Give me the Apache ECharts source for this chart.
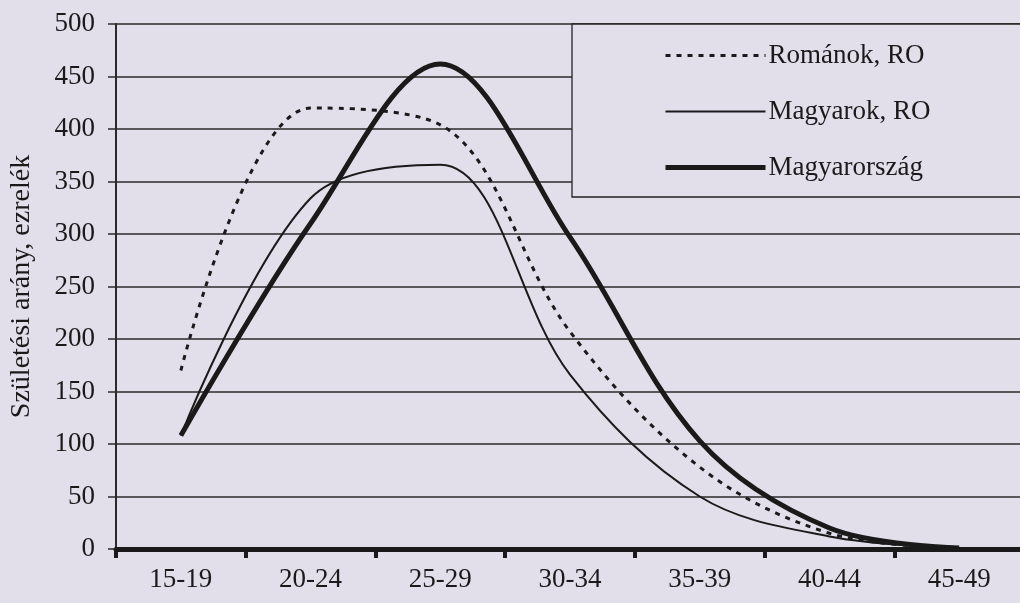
<!DOCTYPE html>
<html>
<head>
<meta charset="utf-8">
<script src="https://cdn.jsdelivr.net/npm/echarts@6/dist/echarts.min.js"></script>
<style>
html,body{margin:0;padding:0;background:#e2dfea;}
#chart{width:1020px;height:603px;}
</style>
</head>
<body>
<div id="chart"></div>
<script>
var categories = ['15-19','20-24','25-29','30-34','35-39','40-44','45-49'];
var romanokRO = [170, 420, 404, 207, 78, 15, 1];
var magyarokRO = [108, 334, 366, 166, 50, 12, 1];
var magyarorszag = [108, 310, 462, 297, 103, 20, 1];
var yTicks = [0, 50, 100, 150, 200, 250, 300, 350, 400, 450, 500];
var seriesNames = ['Románok, RO', 'Magyarok, RO', 'Magyarország'];

var ink = '#1a1a1a';
var font = 'Liberation Serif';
var styles = [
  {color: ink, width: 3, type: [5, 6]},
  {color: ink, width: 2, type: 'solid'},
  {color: ink, width: 5, type: 'solid'}
];

var chart = echarts.init(document.getElementById('chart'));
chart.setOption({
  backgroundColor: '#e2dfea',
  animation: false,
  grid: {left: 116, top: 24, right: -4, bottom: 54, containLabel: false, outerBoundsMode: 'none'},
  legend: {
    orient: 'vertical',
    left: 572, top: 24,
    padding: [18, 140, 16, 91],
    itemGap: 29,
    itemWidth: 100,
    itemHeight: 8,
    backgroundColor: '#e2dfea',
    borderColor: '#222',
    borderWidth: 1.3,
    itemStyle: {opacity: 0},
    textStyle: {fontFamily: font, fontSize: 27, color: ink, padding: [0, 0, 0, -2]},
    data: seriesNames.map(function (n, i) {
      return {name: n, lineStyle: styles[i], itemStyle: {opacity: 0}};
    })
  },
  xAxis: {
    type: 'category',
    data: categories,
    boundaryGap: true,
    axisLine: {lineStyle: {color: ink, width: 5}},
    axisTick: {show: true, length: 9, lineStyle: {color: ink, width: 4}},
    axisLabel: {fontFamily: font, fontSize: 27, color: ink, margin: 17},
    splitLine: {show: false}
  },
  yAxis: {
    type: 'value',
    min: yTicks[0], max: yTicks[yTicks.length - 1], interval: 50,
    name: 'Születési arány, ezrelék',
    nameLocation: 'middle',
    nameGap: 80,
    nameRotate: 90,
    nameTextStyle: {fontFamily: font, fontSize: 28, color: ink},
    axisLine: {show: true, lineStyle: {color: '#2a2a2a', width: 2}},
    axisTick: {show: true, inside: false, length: 8, lineStyle: {color: '#2a2a2a', width: 1.5}},
    axisLabel: {fontFamily: font, fontSize: 27, color: ink, margin: 21},
    splitLine: {show: true, lineStyle: {color: '#2a2a2a', width: 1.5}}
  },
  series: [
    {
      name: seriesNames[0], type: 'line', data: romanokRO, smooth: 0.35,
      showSymbol: false, symbol: 'none',
      lineStyle: styles[0], itemStyle: {color: ink}
    },
    {
      name: seriesNames[1], type: 'line', data: magyarokRO, smooth: 0.35,
      showSymbol: false, symbol: 'none',
      lineStyle: styles[1], itemStyle: {color: ink}
    },
    {
      name: seriesNames[2], type: 'line', data: magyarorszag, smooth: 0.35,
      showSymbol: false, symbol: 'none',
      lineStyle: styles[2], itemStyle: {color: ink}
    }
  ]
});
</script>
</body>
</html>
